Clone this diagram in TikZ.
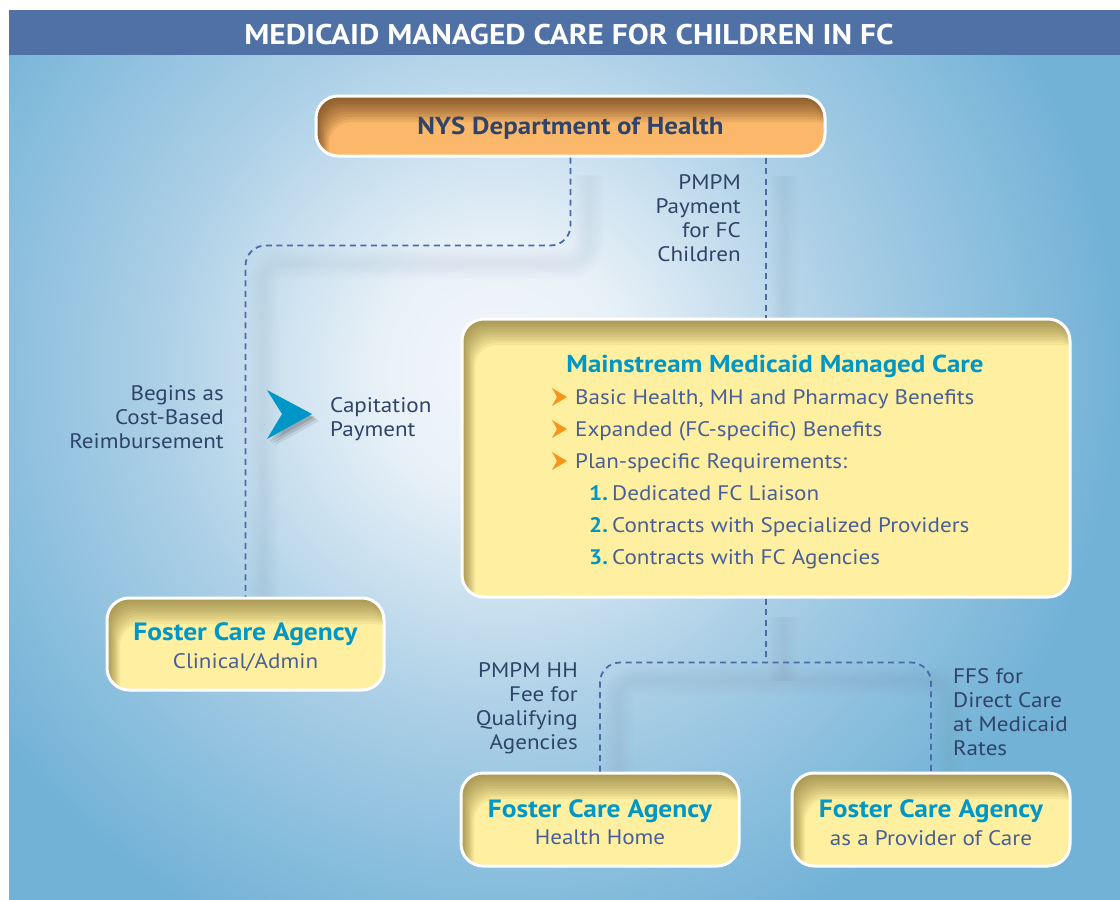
\documentclass[tikz,border=0pt]{standalone}
\usepackage{fontspec}
\setmainfont{PT Sans}[FakeStretch=1.1]
\usetikzlibrary{calc}

\definecolor{titlebar}{HTML}{4F71A5}
\definecolor{skyedge}{HTML}{72B2D7}
\definecolor{skymid}{HTML}{ABCFE6}
\definecolor{skycore}{HTML}{F3F7FB}
\definecolor{teal}{HTML}{0096C6}
\definecolor{navy}{HTML}{2F4468}
\definecolor{bodytext}{HTML}{4A5F98}
\definecolor{dashblue}{HTML}{4A6AA8}
\definecolor{boxyellow}{HTML}{FEF0A0}
\definecolor{boxorange}{HTML}{FBB86A}
\definecolor{bulletorange}{HTML}{F7941D}
\definecolor{olive}{HTML}{5C4A10}
\definecolor{umber}{HTML}{3A1E02}
\definecolor{ghost}{HTML}{6F8299}

\pgfdeclareradialshading{skyglow}{\pgfpoint{0bp}{0bp}}{%
  color(0bp)=(skycore); color(5bp)=(skycore!85!skymid); color(14bp)=(skymid);
  color(25bp)=(skyedge); color(50bp)=(skyedge)}

\pgfdeclarelayer{sky}
\pgfdeclarelayer{shadows}
\pgfsetlayers{sky,shadows,main}

% inset shadow along the inner top and left edges of a box:
% the area outside a copy of the box moved down-right, stacked thinly
\newcommand\innershade[3]{%
  \foreach \k in {1,...,10}{%
    \fill[#1, opacity=#3, even odd rule, sharp corners]
      ([shift={(-60pt,60pt)}]path picture bounding box.north west) rectangle
      ([shift={(60pt,-60pt)}]path picture bounding box.south east)
      [rounded corners=#2]
      ([shift={(\k*1.3pt,-\k*2.6pt)}]path picture bounding box.north west) rectangle
      ([shift={(\k*1.3pt,-\k*2.6pt)}]path picture bounding box.south east);}%
}

\tikzset{
  box/.style={rounded corners=22pt, draw=white, line width=3pt, align=center, inner sep=0pt},
  yellowbox/.style={box, fill=boxyellow, path picture={\innershade{olive}{22pt}{0.065}}},
  orangebox/.style={box, fill=boxorange, path picture={\innershade{umber}{22pt}{0.08}}},
  link/.style={draw=dashblue, line width=1.8pt, dash pattern=on 6pt off 4.5pt, rounded corners=20pt},
  lbl/.style={font=\fontsize{21}{24}\selectfont, text=navy, inner sep=0pt},
  body/.style={font=\fontsize{21}{24}\selectfont, text=bodytext, inner sep=0pt},
  num/.style={font=\bfseries\fontsize{21}{24}\selectfont, text=teal, inner sep=0pt},
  head/.style={font=\bfseries\fontsize{24.5}{28}\selectfont, text=teal, inner sep=0pt},
}
\newcommand\agency[1]{{\rule{0pt}{24pt}\bfseries\fontsize{25}{28}\selectfont\color{teal}Foster Care Agency}\\[6pt]
   {\fontsize{21}{24}\selectfont\color{bodytext}#1}}

\begin{document}
\begin{tikzpicture}[x=1pt,y=-1pt]
\useasboundingbox (0,0) rectangle (1120,900);

% backdrop with a soft glow
\begin{pgfonlayer}{sky}
  \fill[white] (0,0) rectangle (1120,900);
  \begin{scope}
    \clip (9,55) rectangle (1120,900);
    \fill[skyedge] (9,55) rectangle (1120,900);
    \shade[shading=skyglow] (500,370) circle (620pt);
  \end{scope}
  \fill[titlebar] (9,10) rectangle (1120,55);
\end{pgfonlayer}
\node[font=\bfseries\fontsize{28.5}{32}\selectfont, text=white, inner sep=0pt] (title) at (569,35)
  {MEDICAID MANAGED CARE FOR CHILDREN IN FC};

% boxes
\node[orangebox, minimum width=509pt, minimum height=60pt,
      font=\bfseries\fontsize{24.5}{28}\selectfont, text=navy] (nys) at (570.5,126)
  {\rule{0pt}{22pt}NYS Department of Health};
\node[yellowbox, minimum width=608pt, minimum height=278pt] (mmc) at (766,458) {};
\node[yellowbox, minimum width=277pt, minimum height=92pt] (fcaL) at (245.5,644)
  {\agency{Clinical/Admin}};
\node[yellowbox, minimum width=278pt, minimum height=93pt] (fcaHH) at (600,819.5)
  {\agency{Health Home}};
\node[yellowbox, minimum width=278pt, minimum height=93pt] (fcaP) at (931,819.5)
  {\agency{as a Provider of Care}};

% contents of the managed care box
\node[head, anchor=mid] (mmchead) at (775,370) {Mainstream Medicaid Managed Care};
\foreach \yy in {397,429,461}
  \fill[bulletorange] (552,\yy-9) -- (567,\yy) -- (552,\yy+9) -- (557,\yy) -- cycle;
\node[body, anchor=mid west] (b1) at (575,402) {Basic Health, MH and Pharmacy Benefits};
\node[body, anchor=mid west] (b2) at (575,434) {Expanded (FC-specific) Benefits};
\node[body, anchor=mid west] (b3) at (575,466) {Plan-specific Requirements:};
\node[num, anchor=mid west] (n1) at (589,498) {1.};
\node[num, anchor=mid west] (n2) at (589,530) {2.};
\node[num, anchor=mid west] (n3) at (589,562) {3.};
\node[body, anchor=mid west] (r1) at (612,498) {Dedicated FC Liaison};
\node[body, anchor=mid west] (r2) at (612,530) {Contracts with Specialized Providers};
\node[body, anchor=mid west] (r3) at (612,562) {Contracts with FC Agencies};

% payment labels
\node[lbl, anchor=east, align=right] (pmpm) at (741,218) {PMPM\\Payment\\for FC\\Children};
\node[lbl, anchor=east, align=right] (begins) at (224,417) {Begins as\\Cost-Based\\Reimbursement};
\node[lbl, anchor=west, align=left] (capit) at (330,419) {Capitation\\Payment};
\node[lbl, anchor=east, align=right] (hhfee) at (578,708) {PMPM HH\\Fee for\\Qualifying\\Agencies};
\node[lbl, anchor=west, align=left] (ffs) at (953,712) {FFS for\\Direct Care\\at Medicaid\\Rates};

% transition chevron
\begin{pgfonlayer}{shadows}
  \foreach \s/\o in {7/0.08,5/0.1,3/0.12}
    \fill[black, opacity=\o] (267+\s,390+\s) -- (312+\s,414+\s) -- (267+\s,439+\s) -- (282+\s,414+\s) -- cycle;
\end{pgfonlayer}
\fill[teal] (267,390) -- (312,414) -- (267,439) -- (282,414) -- cycle;

% dashed connectors
\draw[link] (nys.south) -- ++(0,88) -| (fcaL.north);
\draw[link] (nys.south -| mmc.north) -- (mmc.north);
\draw[link] (mmc.south) -- ++(0,64) coordinate (fork);
\draw[link] (fcaHH.north) -- (fcaHH.north |- fork) -- (fcaP.north |- fork) -- (fcaP.north);

% soft shadows trailing the connectors
\begin{pgfonlayer}{shadows}
  \foreach \w in {30,24,18,12,6}{
    \begin{scope}[transform canvas={shift={(18pt,-18pt)}}]
      \draw[draw=ghost, line width=\w pt, opacity=0.02, rounded corners=20pt]
        (nys.south) -- ++(0,88) -| (fcaL.north);
      \draw[draw=ghost, line width=\w pt, opacity=0.02]
        (nys.south -| mmc.north) -- (mmc.north);
      \draw[draw=ghost, line width=\w pt, opacity=0.02]
        (mmc.south) -- (fork);
      \draw[draw=ghost, line width=\w pt, opacity=0.02, rounded corners=20pt]
        (fcaHH.north) -- (fcaHH.north |- fork) -- (fcaP.north |- fork) -- (fcaP.north);
    \end{scope}}
\end{pgfonlayer}
\end{tikzpicture}
\end{document}
